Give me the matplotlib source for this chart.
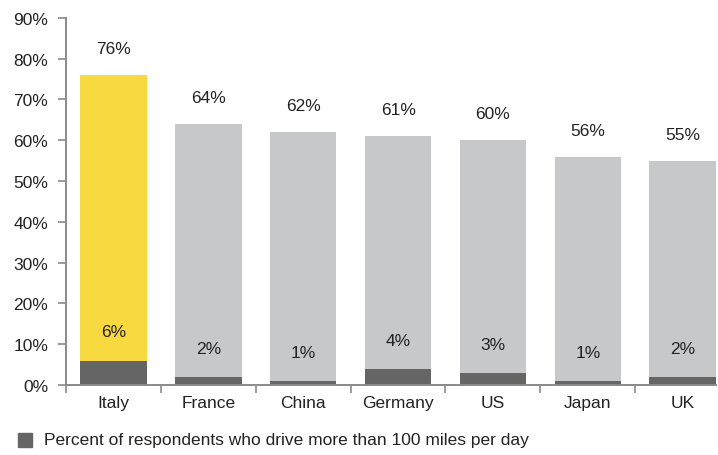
import numpy as np
import matplotlib.pyplot as plt

plt.rcParams['font.family'] = ['Liberation Sans', 'DejaVu Sans']

countries = ["Italy", "France", "China", "Germany", "US", "Japan", "UK"]
total_pct = [76, 64, 62, 61, 60, 56, 55]
long_drive_pct = [6, 2, 1, 4, 3, 1, 2]

yellow = "#F8D93F"
light = "#C7C8CA"
dark = "#656565"
axis_col = "#8A8A8A"
text_col = "#222222"
fs = 12.5

fig = plt.figure(figsize=(7.18, 4.56), dpi=100)
ax = fig.add_axes([0.092, 0.1535, 0.905, 0.805])

x = np.arange(len(countries))
width = 0.7
top_colors = [yellow] + [light] * (len(countries) - 1)
rest = [t - d for t, d in zip(total_pct, long_drive_pct)]

ax.bar(x, long_drive_pct, width, color=dark, zorder=2)
ax.bar(x, rest, width, bottom=long_drive_pct, color=top_colors, zorder=2)

# value labels above each bar and above the dark segment
for xi, t, d in zip(x, total_pct, long_drive_pct):
    ax.text(xi, t + 6.5, f"{t}%", ha="center", va="center",
            fontsize=fs, color=text_col)
    ax.text(xi, d + 7, f"{d}%", ha="center", va="center",
            fontsize=fs, color=text_col)

ax.set_xlim(-0.5, 6.35)
ax.set_ylim(0, 90)
ax.set_yticks(np.arange(0, 91, 10))
ax.set_yticklabels([f"{v}%" for v in range(0, 91, 10)], fontsize=fs,
                   color=text_col)

# separators between categories, names centred under the bars
ax.set_xticks(np.arange(-0.5, 6, 1))
ax.set_xticklabels([])
ax.set_xticks(x, minor=True)
ax.set_xticklabels(countries, minor=True, fontsize=fs, color=text_col)
ax.tick_params(axis="x", which="minor", length=0, pad=7)
ax.tick_params(axis="x", which="major", length=6, width=1.2,
               color=axis_col)
ax.tick_params(axis="y", length=6, width=1.2, color=axis_col, pad=7)

for side in ["top", "right"]:
    ax.spines[side].set_visible(False)
for side in ["left", "bottom"]:
    ax.spines[side].set_color(axis_col)
    ax.spines[side].set_linewidth(1.4)

# legend row at the bottom
fig.patches.append(plt.Rectangle((18 / 718, 1 - 448 / 456), 14 / 718,
                                 14 / 456, transform=fig.transFigure,
                                 color=dark))
fig.text(44 / 718, 1 - 441 / 456,
         "Percent of respondents who drive more than 100 miles per day",
         fontsize=fs, va="center", ha="left", color=text_col)

fig.savefig("out.png", dpi=100)
